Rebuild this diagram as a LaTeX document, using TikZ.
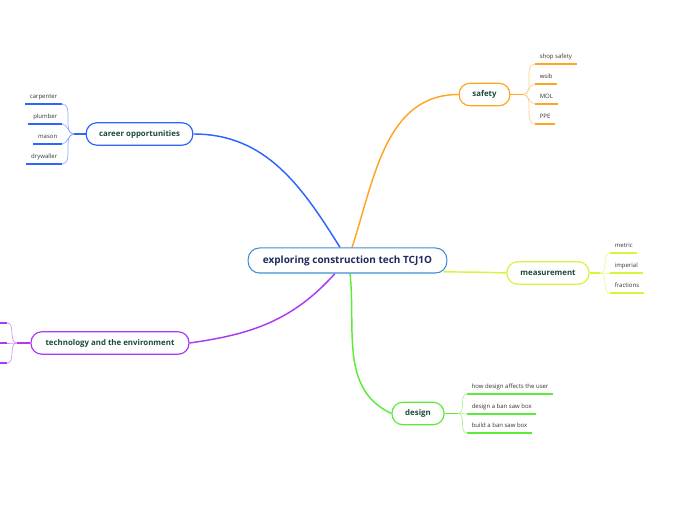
\documentclass[tikz,border=0pt]{standalone}
\usepackage{fontspec}
\setmainfont{Open Sans}
\usepackage{tikz}
\usetikzlibrary{positioning, calc, backgrounds}

\definecolor{mainblue}{HTML}{3D8FD1}
\definecolor{maintext}{HTML}{1E2B5C}
\definecolor{topictext}{HTML}{1B4A3C}
\definecolor{careerc}{HTML}{2D65FF}
\definecolor{safetyc}{HTML}{FFA424}
\definecolor{measc}{HTML}{D6F53C}
\definecolor{designc}{HTML}{5CEB3B}
\definecolor{techc}{HTML}{AA3BF2}

\begin{document}
\begin{tikzpicture}[x=0.75pt, y=0.75pt,
  every node/.style = {font=\fontsize{4.5}{5}\selectfont},
  central/.style = {draw=mainblue, fill=white, line width=0.8pt, rounded corners=8.5pt,
                    minimum width=149pt, minimum height=18.8pt, inner sep=0pt,
                    text=maintext, font=\fontsize{7.5}{8}\selectfont\bfseries},
  topic/.style   = {draw, fill=white, line width=0.9pt, rounded corners=8pt,
                    minimum height=16.8pt, inner sep=0pt,
                    text=topictext, font=\fontsize{5.9}{6}\selectfont\bfseries},
  leaf/.style    = {inner xsep=3.4pt, inner ysep=3pt, text height=3pt, text depth=1pt,
                    text=black!80},
  leafr/.style   = {leaf, anchor=south west},
  leafl/.style   = {leaf, anchor=south east},
  trunk/.style   = {line width=1.1pt},
  twig/.style    = {line width=0.5pt},
  uline/.style   = {line width=1.3pt}
]
\useasboundingbox (0,0) rectangle (696,520);

\node[central] (center) at (347.5,259.5) {exploring construction tech TCJ1O};
\node[topic, draw=safetyc, minimum width=38pt]   (safety)  at (484.5,425.5) {safety};
\node[topic, draw=careerc, minimum width=80pt]   (career)  at (139.5,386)   {career opportunities};
\node[topic, draw=techc, minimum width=118.5pt]  (tech)    at (110,177)     {technology and the environment};
\node[topic, draw=measc, minimum width=61.5pt]   (meas)    at (548,247)     {measurement};
\node[topic, draw=designc, minimum width=39pt]   (design)  at (418,106.5)   {design};

\begin{scope}[on background layer]
\draw[trunk, careerc] ([xshift=-5.6pt]center.north) to[out=122, in=0] (career.east);
\draw[trunk, safetyc] ([xshift=3.4pt]center.north) to[out=72, in=180] (safety.west);
\draw[trunk, techc]   ([xshift=-9.4pt]center.south) to[out=228, in=8] (tech.east);
\draw[trunk, designc] ([xshift=1.9pt]center.south) to[out=-84, in=155] (design.west);
\draw[trunk, measc]   ([xshift=-3pt, yshift=-8.6pt]center.east) to[out=0, in=178] (meas.west);
\end{scope}

% safety
\coordinate (sf) at (523,425.5);
\draw[trunk, safetyc] (safety.east) -- (sf);
\node[leafr] (s1) at (535,456) {shop safety};
\node[leafr] (s2) at (535,436) {wsib};
\node[leafr] (s3) at (535,416) {MOL};
\node[leafr] (s4) at (535,396) {PPE};
\draw[uline, safetyc] (s1.south west) -- (s1.south east);
\draw[uline, safetyc] (s2.south west) -- (s2.south east);
\draw[uline, safetyc] (s3.south west) -- (s3.south east);
\draw[uline, safetyc] (s4.south west) -- (s4.south east);
\draw[twig, safetyc!55] (sf) to[out=0, in=180] (s1.south west);
\draw[twig, safetyc!55] (sf) to[out=0, in=180] (s2.south west);
\draw[twig, safetyc!55] (sf) to[out=0, in=180] (s3.south west);
\draw[twig, safetyc!55] (sf) to[out=0, in=180] (s4.south west);

% career opportunities
\coordinate (cf) at (74,386);
\draw[trunk, careerc] (career.west) -- (cf);
\node[leafl] (c1) at (62,416) {carpenter};
\node[leafl] (c2) at (62,396) {plumber};
\node[leafl] (c3) at (62,376) {mason};
\node[leafl] (c4) at (62,356) {drywaller};
\draw[uline, careerc] (c1.south west) -- (c1.south east);
\draw[uline, careerc] (c2.south west) -- (c2.south east);
\draw[uline, careerc] (c3.south west) -- (c3.south east);
\draw[uline, careerc] (c4.south west) -- (c4.south east);
\draw[twig, careerc!55] (cf) to[out=180, in=0] (c1.south east);
\draw[twig, careerc!55] (cf) to[out=180, in=0] (c2.south east);
\draw[twig, careerc!55] (cf) to[out=180, in=0] (c3.south east);
\draw[twig, careerc!55] (cf) to[out=180, in=0] (c4.south east);

% technology and the environment
\coordinate (tf) at (17,177);
\coordinate (t1) at (7,197);
\coordinate (t2) at (7,177);
\coordinate (t3) at (7,157);
\draw[trunk, techc] (tech.west) -- (tf);
\draw[uline, techc] (t1) -- ++(-10,0);
\draw[uline, techc] (t2) -- ++(-10,0);
\draw[uline, techc] (t3) -- ++(-10,0);
\draw[twig, techc!55] (tf) to[out=180, in=0] (t1);
\draw[twig, techc!55] (tf) to[out=180, in=0] (t2);
\draw[twig, techc!55] (tf) to[out=180, in=0] (t3);

% measurement
\coordinate (mf) at (600,247);
\draw[trunk, measc] (meas.east) -- (mf);
\node[leafr] (m1) at (610,267) {metric};
\node[leafr] (m2) at (610,247) {imperial};
\node[leafr] (m3) at (610,227) {fractions};
\draw[uline, measc] (m1.south west) -- (m1.south east);
\draw[uline, measc] (m2.south west) -- (m2.south east);
\draw[uline, measc] (m3.south west) -- (m3.south east);
\draw[twig, measc!60] (mf) to[out=0, in=180] (m1.south west);
\draw[twig, measc!60] (mf) to[out=0, in=180] (m2.south west);
\draw[twig, measc!60] (mf) to[out=0, in=180] (m3.south west);

% design
\coordinate (df) at (458,106.5);
\draw[trunk, designc] (design.east) -- (df);
\node[leafr] (d1) at (467,126) {how design affects the user};
\node[leafr] (d2) at (467,106) {design a ban saw box};
\node[leafr] (d3) at (467,87)  {build a ban saw box};
\draw[uline, designc] (d1.south west) -- (d1.south east);
\draw[uline, designc] (d2.south west) -- (d2.south east);
\draw[uline, designc] (d3.south west) -- (d3.south east);
\draw[twig, designc!55] (df) to[out=0, in=180] (d1.south west);
\draw[twig, designc!55] (df) to[out=0, in=180] (d2.south west);
\draw[twig, designc!55] (df) to[out=0, in=180] (d3.south west);

\end{tikzpicture}
\end{document}
